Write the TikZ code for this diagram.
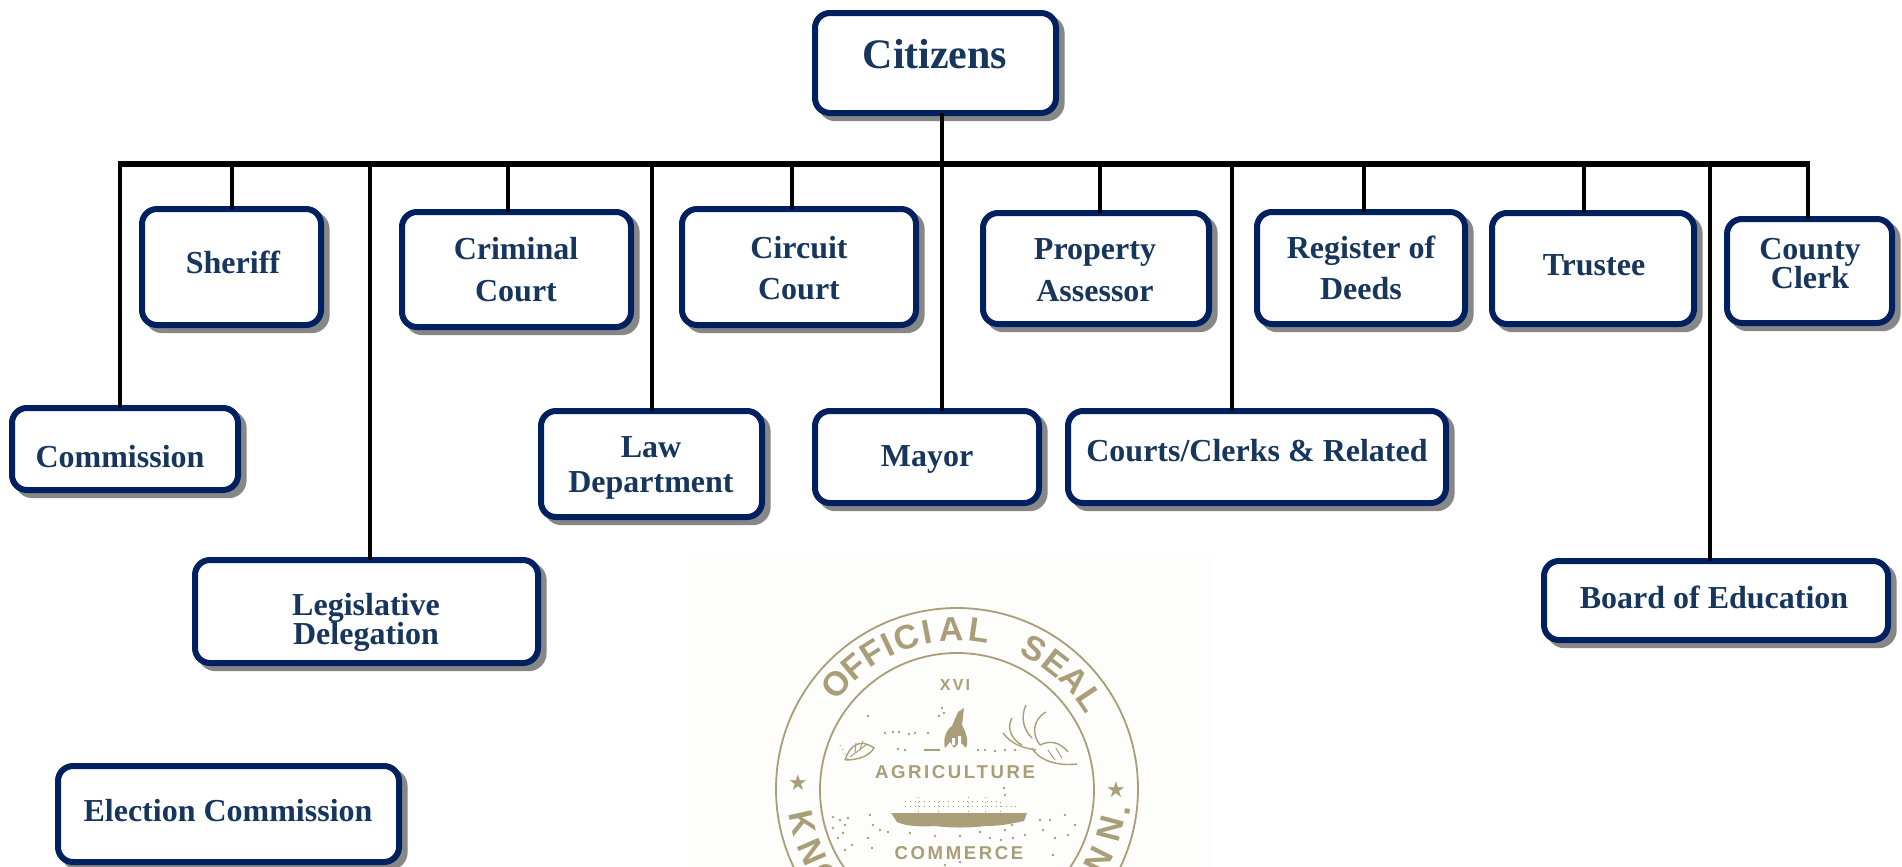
\documentclass[tikz,border=0pt]{standalone}
\usepackage{fontspec}
\setmainfont{Liberation Serif}
\newfontfamily\sealfont{Liberation Sans}
\newfontfamily\sealwide[LetterSpace=14]{Liberation Sans}
\usetikzlibrary{shadows}
\definecolor{navy}{HTML}{002060}
\definecolor{inktext}{HTML}{17365D}
\definecolor{shade}{HTML}{878787}
\definecolor{sealink}{HTML}{A99E78}
\definecolor{sealbg}{HTML}{FDFDFB}
\newcommand{\tightlines}{\setlength{\lineskiplimit}{-20pt}}
\tikzset{
  x=0.5pt,y=-0.5pt,
  orgbox/.style={draw=navy,fill=white,line width=3pt,rounded corners=7.5pt,inner sep=0pt,outer sep=0pt,
    general shadow={shadow xshift=2.8pt,shadow yshift=-2.6pt,draw=shade,fill=shade}},
  orgtext/.style={text=inktext,align=center,inner sep=0pt},
  bus/.style={draw=black,line width=3pt,shorten <=-0.8pt,shorten >=-0.8pt},
  drop/.style={draw=black,line width=1.6pt},
  sealline/.style={draw=sealink,line width=0.9pt},
  sealglyph/.style={text=sealink,inner sep=0pt},
  speck/.style={fill=sealink}
}
\newcommand{\orgb}[9]{%
  \pgfmathsetmacro{\bw}{(#4-#2-6)*0.5}%
  \pgfmathsetmacro{\bh}{(#5-#3-6)*0.5}%
  \node[orgbox,minimum width=\bw pt,minimum height=\bh pt] (#1) at ({(#2+#4)/2},{(#3+#5)/2}) {};%
  \node[orgtext,font={\bfseries\fontsize{16}{#8}\selectfont\tightlines}] (#1-text) at (#6,#7) {#9};%
}
\newcommand{\arcglyph}[3]{% angle, text, radius
  \pgfmathsetmacro{\rt}{#1-90}%
  \node[sealglyph,rotate=\rt] at ({957+#3*cos(#1)},{789-#3*sin(#1)}) {\sealfont\bfseries\fontsize{17}{17}\selectfont #2};%
}
\newcommand{\lowglyph}[3]{% angle, text, radius
  \pgfmathsetmacro{\rt}{#1+90}%
  \node[sealglyph,rotate=\rt] at ({957+#3*cos(#1)},{789-#3*sin(#1)}) {\sealfont\bfseries\fontsize{17}{17}\selectfont #2};%
}
\begin{document}
\begin{tikzpicture}
\useasboundingbox (0,0) rectangle (1902,867);
\fill[white] (0,0) rectangle (1902,867);
% seal
\begin{scope}
\clip (0,0) rectangle (1902,867);
\fill[sealbg] (688,558) rectangle (1212,867);
\draw[sealline] (957,789) circle [radius=181];
\draw[sealline] (957,790) circle [radius=137];
\foreach \a/\g in {139/O,130/F,122/F,115.5/I,108.5/C,101/I,92/A,82/L,61/S,52/E,43/A,34/L}{\arcglyph{\a}{\g}{160}}
\foreach \a/\g in {192.5/K,203.5/N,214/O,-26.7/N,-14.7/N}{\lowglyph{\a}{\g}{158}}
\lowglyph{-7.5}{.}{172}
\node[sealglyph] at (798,783) {\fontspec{DejaVu Sans}\fontsize{11}{11}\selectfont ★};
\node[sealglyph] at (1116,790) {\fontspec{DejaVu Sans}\fontsize{11}{11}\selectfont ★};
\node[sealglyph] at (955,685) {\sealwide\bfseries\fontsize{8}{8}\selectfont XVI};
\node[sealglyph] at (955,772) {\sealwide\bfseries\fontsize{9.3}{10}\selectfont AGRICULTURE};
\node[sealglyph] at (959,853) {\sealwide\bfseries\fontsize{9.3}{10}\selectfont COMMERCE};
% ship
\fill[sealink] (891,813) -- (1027,813) -- (1024,821) .. controls (1010,824) and (1000,826) .. (985,826) .. controls (970,828) and (950,828) .. (935,826) .. controls (920,827) and (905,826) .. (897,822) -- cycle;
\draw[sealink,line width=0.4pt,dotted] (905,801) -- (1000,801);
\draw[sealink,line width=0.4pt,dotted] (905,806) -- (1020,806);
\draw[sealink,line width=0.4pt,dotted] (918,812) -- (918,795) (938,812) -- (938,800) (968,812) -- (968,795) (985,812) -- (985,795) (1000,812) -- (1000,800);
% left leaf
\draw[sealink,line width=0.7pt] (845,760) .. controls (850,745) and (860,738) .. (874,748) .. controls (870,755) and (860,760) .. (845,760);
\draw[sealink,line width=0.5pt] (850,757) -- (866,745) (855,752) -- (856,743) (860,749) -- (863,741);
\draw[sealink,line width=0.5pt,dotted] (840,745) -- (850,762);
% right branch
\draw[sealink,line width=0.7pt] (1012,718) .. controls (1006,728) and (1012,740) .. (1022,745);
\draw[sealink,line width=0.7pt] (1026,705) .. controls (1020,718) and (1024,730) .. (1032,738);
\draw[sealink,line width=0.7pt] (1046,712) .. controls (1032,720) and (1032,735) .. (1040,745);
\draw[sealink,line width=0.7pt] (1003,733) .. controls (1012,745) and (1024,748) .. (1036,750);
\draw[sealink,line width=0.7pt] (1032,748) .. controls (1040,762) and (1060,766) .. (1077,764);
\draw[sealink,line width=0.7pt] (1040,745) .. controls (1050,740) and (1060,742) .. (1068,752);
\draw[sealink,line width=0.5pt] (1048,750) -- (1055,760) (1056,748) -- (1062,758);
% centre figure
\fill[sealink] (945,748) .. controls (942,738) and (948,728) .. (952,726) -- (958,712) -- (964,708) -- (962,725) .. controls (968,735) and (968,745) .. (966,748) -- (960,742) -- (954,748) -- (950,742) -- cycle;
\fill[white] (952,738) rectangle (955,745) (958,736) rectangle (961,744);
\draw[sealink,line width=1.2pt] (924,750) -- (940,750);
\foreach \p in {
 (868,716),(885,733),(893,732),(899,732),(909,734),(915,733),(928,733),(898,749),(905,750),
 (978,750),(985,750),(995,751),(1005,750),(1015,750),(942,708),(944,713),(939,716),(1004,788),(1005,795),
 (833,817),(840,820),(845,825),(833,828),(843,833),(848,818),(838,838),(852,845),(845,850),(870,815),
 (873,825),(880,830),(868,838),(872,848),(888,832),(910,833),(935,836),(960,836),(980,832),(1012,825),
 (1018,820),(1040,820),(1043,830),(1065,815),(1075,825),(1068,835),(1055,838),(1050,820),(1025,835),(1013,838),(1053,855),(960,862),(945,865),
 (990,838),(1005,830),(1001,840)}
 {\fill[speck] \p circle [radius=1.4];}
\end{scope}
% connector anchors on the bus
\coordinate (busL) at (120,163.5);
\coordinate (busR) at (1808,163.5);
\foreach \n/\x in {bA/232,bB/370,bC/508,bD/652,bE/792,bF/942,bG/1100,bH/1232,bI/1364,bJ/1584,bK/1710}{\coordinate (\n) at (\x,163.5);}
% boxes
\orgb{citizens}{812}{10}{1059}{116}{935}{54}{21}{\fontsize{21}{24}\selectfont Citizens}
\orgb{sheriff}{139}{206}{324}{328}{233}{262}{21}{Sheriff}
\orgb{criminal}{399}{209}{634}{330}{516}{270}{21}{Criminal\\Court}
\orgb{circuit}{679}{206}{919}{328}{799}{268}{20.5}{Circuit\\Court}
\orgb{property}{980}{210}{1212}{327}{1095}{270}{21}{Property\\Assessor}
\orgb{register}{1254}{209}{1468}{327}{1361}{268}{20.5}{Register of\\Deeds}
\orgb{trustee}{1489}{210}{1697}{327}{1594}{265}{21}{Trustee}
\orgb{clerk}{1724}{216}{1895}{326}{1810}{264}{14.5}{County\\Clerk}
\orgb{commission}{9}{405}{241}{493}{120}{457}{21}{Commission}
\orgb{law}{538}{408}{765}{520}{651}{468}{17.5}{Law\\Department}
\orgb{mayor}{812}{408}{1042}{506}{927}{459}{21}{Mayor}
\orgb{courts}{1065}{408}{1449}{506}{1257}{451}{21}{Courts/Clerks \& Related}
\orgb{legis}{192}{557}{541}{666}{366}{622}{14.5}{Legislative\\Delegation}
\orgb{board}{1541}{558}{1891}{643}{1714}{597}{21}{Board of Education}
\orgb{election}{55}{763}{402}{865}{228}{811}{21}{Election Commission}
% connectors
\draw[bus] (busL) -- (busR);
\draw[drop] (citizens.south -| bF) -- (bF);
\draw[drop] (busL) -- (busL |- commission.north);
\draw[drop] (bA) -- (bA |- sheriff.north);
\draw[drop] (bB) -- (bB |- legis.north);
\draw[drop] (bC) -- (bC |- criminal.north);
\draw[drop] (bD) -- (bD |- law.north);
\draw[drop] (bE) -- (bE |- circuit.north);
\draw[drop] (bF) -- (bF |- mayor.north);
\draw[drop] (bG) -- (bG |- property.north);
\draw[drop] (bH) -- (bH |- courts.north);
\draw[drop] (bI) -- (bI |- register.north);
\draw[drop] (bJ) -- (bJ |- trustee.north);
\draw[drop] (bK) -- (bK |- board.north);
\draw[drop] (busR) -- (busR |- clerk.north);
\end{tikzpicture}
\end{document}
